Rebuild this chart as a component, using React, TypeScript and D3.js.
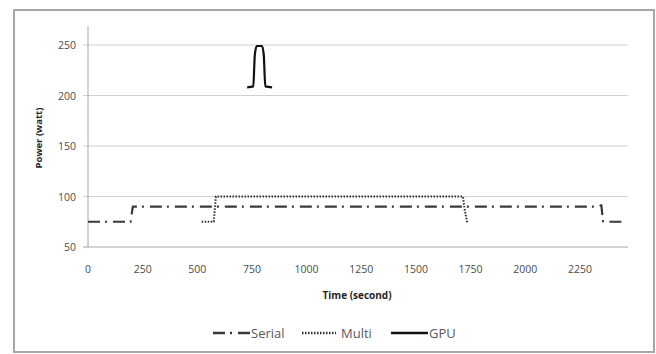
import React, { useEffect, useRef } from 'react';
import * as d3 from 'd3';

// time (s) / power (watt) pairs
const serialTime = [0, 195, 205, 2338, 2348, 2356, 2460];
const serialPower = [75, 75, 90, 90, 91.5, 75, 75];

const multiTime = [520, 575, 585, 1715, 1722, 1735];
const multiPower = [75, 75, 100, 100, 88, 74];

const gpuTime = [728, 756, 763, 772, 796, 804, 811, 842];
const gpuPower = [208, 209, 240, 249, 249, 240, 209, 208];

const yTicks = [50, 100, 150, 200, 250];
const xTicks = [0, 250, 500, 750, 1000, 1250, 1500, 1750, 2000, 2250];

const seriesNames = ['Serial', 'Multi', 'GPU'];

const FONT = '"Open Sans", sans-serif';

const App = () => {
  const ref = useRef<SVGSVGElement>(null);

  useEffect(() => {
    const svg = d3.select(ref.current);
    svg.selectAll('*').remove();

    const x = d3.scaleLinear().domain([0, 2470]).range([88, 628]);
    const y = d3.scaleLinear().domain([50, 250]).range([247, 45]);

    // outer frame
    svg.append('rect')
      .attr('x', 14).attr('y', 10).attr('width', 640).attr('height', 342)
      .attr('fill', 'white').attr('stroke', '#a6a6a6').attr('stroke-width', 2);

    // gridlines
    svg.selectAll('.grid')
      .data(yTicks)
      .enter()
      .append('line')
      .attr('x1', 83).attr('x2', x(2470))
      .attr('y1', d => y(d)).attr('y2', d => y(d))
      .attr('stroke', d => d === 50 ? '#a6a6a6' : '#cfcfcf')
      .attr('stroke-width', 1);

    // y axis line
    svg.append('line')
      .attr('x1', x(0)).attr('x2', x(0))
      .attr('y1', 26).attr('y2', y(50))
      .attr('stroke', '#a6a6a6');

    svg.selectAll('.ylab')
      .data(yTicks)
      .enter()
      .append('text')
      .attr('x', 76).attr('y', d => y(d) + 4)
      .attr('text-anchor', 'end')
      .attr('font-family', FONT).attr('font-size', 10.5)
      .attr('fill', '#4d4d4d')
      .text(d => d);

    svg.selectAll('.xlab')
      .data(xTicks)
      .enter()
      .append('text')
      .attr('x', d => x(d)).attr('y', 273)
      .attr('text-anchor', 'middle')
      .attr('font-family', FONT).attr('font-size', 10.5)
      .attr('fill', '#4d4d4d')
      .text(d => d);

    svg.append('text')
      .attr('x', 357).attr('y', 299)
      .attr('text-anchor', 'middle')
      .attr('font-family', FONT).attr('font-size', 10).attr('font-weight', 'bold')
      .attr('fill', '#262626')
      .text('Time (second)');

    svg.append('text')
      .attr('transform', 'translate(42 138) rotate(-90)')
      .attr('text-anchor', 'middle')
      .attr('font-family', FONT).attr('font-size', 9.5).attr('font-weight', 'bold')
      .attr('fill', '#262626')
      .text('Power (watt)');

    const styles = [
      { dash: '12,5,2,6', width: 2.2, color: '#3a3a3a' },
      { dash: '1.5,1.5', width: 2, color: '#303030' },
      { dash: null, width: 2.2, color: '#111111' },
    ];

    const sharp = d3.line<[number, number]>().x(d => x(d[0])).y(d => y(d[1]));
    const smooth = d3.line<[number, number]>().x(d => x(d[0])).y(d => y(d[1])).curve(d3.curveMonotoneX);

    const series = [
      d3.zip(serialTime, serialPower) as [number, number][],
      d3.zip(multiTime, multiPower) as [number, number][],
      d3.zip(gpuTime, gpuPower) as [number, number][],
    ];

    series.forEach((pts, i) => {
      svg.append('path')
        .attr('d', (i === 2 ? smooth : sharp)(pts))
        .attr('fill', 'none')
        .attr('stroke', styles[i].color)
        .attr('stroke-width', styles[i].width)
        .attr('stroke-dasharray', styles[i].dash)
        .attr('stroke-linejoin', 'round');
    });

    // legend
    const legendX = [213, 302, 391];
    const legend = svg.selectAll('.legend')
      .data(seriesNames)
      .enter()
      .append('g')
      .attr('transform', (d, i) => `translate(${legendX[i]} 333)`);

    legend.append('line')
      .attr('x1', 0).attr('x2', (d, i) => i === 1 ? 34 : 37)
      .attr('y1', 0).attr('y2', 0)
      .attr('stroke', (d, i) => styles[i].color)
      .attr('stroke-width', (d, i) => styles[i].width + 0.4)
      .attr('stroke-dasharray', (d, i) => styles[i].dash);

    legend.append('text')
      .attr('x', (d, i) => i === 1 ? 39 : 38).attr('y', 4.5)
      .attr('font-family', FONT).attr('font-size', 13)
      .attr('fill', '#595959')
      .text(d => d);
  }, []);

  return (
    <svg ref={ref} width={656} height={354}
      style={{ position: 'absolute', left: 0, top: 0, background: 'white' }} />
  );
};

export default App;
